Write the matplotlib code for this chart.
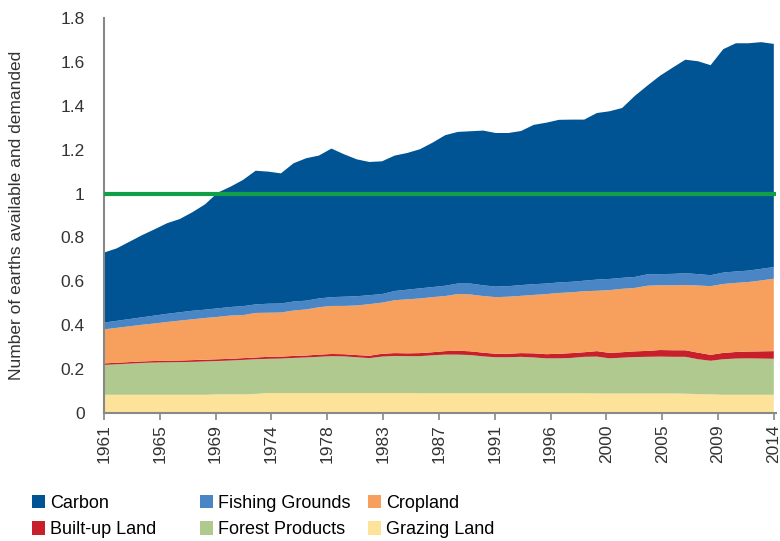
import numpy as np
import matplotlib
matplotlib.use("Agg")
import matplotlib.pyplot as plt
from matplotlib.patches import Patch

# Datos (número de planetas Tierra por componente)
years = list(range(1961, 2015))

grazing = [0.083] * 9 + [0.085] * 3 + [0.087] + [0.091] * 12 + [0.090] * 14 + \
          [0.089] * 7 + [0.088, 0.086, 0.085] + [0.083] * 5

forest = [0.136, 0.139, 0.142, 0.145, 0.147, 0.148, 0.149, 0.150, 0.152, 0.152,
          0.154, 0.157, 0.158, 0.156, 0.157, 0.160, 0.162, 0.165, 0.168, 0.167,
          0.163, 0.159, 0.166, 0.169, 0.168, 0.169, 0.173, 0.176, 0.176, 0.174,
          0.168, 0.164, 0.164, 0.166, 0.163, 0.159, 0.159, 0.161, 0.166, 0.168,
          0.160, 0.163, 0.166, 0.167, 0.168, 0.167, 0.168, 0.159, 0.153, 0.162,
          0.165, 0.166, 0.165, 0.164]

built_up = [0.007, 0.007, 0.007, 0.007, 0.007, 0.007, 0.007, 0.008, 0.008, 0.008,
            0.008, 0.008, 0.008, 0.009, 0.009, 0.009, 0.009, 0.010, 0.010, 0.010,
            0.010, 0.011, 0.013, 0.013, 0.013, 0.014, 0.014, 0.016, 0.018, 0.017,
            0.017, 0.016, 0.016, 0.017, 0.019, 0.019, 0.021, 0.022, 0.021, 0.025,
            0.025, 0.025, 0.026, 0.027, 0.030, 0.030, 0.030, 0.030, 0.027, 0.029,
            0.030, 0.031, 0.033, 0.035]

cropland = [0.155, 0.159, 0.163, 0.167, 0.171, 0.177, 0.182, 0.186, 0.190, 0.193,
            0.197, 0.196, 0.203, 0.201, 0.201, 0.207, 0.210, 0.216, 0.219, 0.220,
            0.226, 0.235, 0.233, 0.241, 0.246, 0.249, 0.251, 0.251, 0.258, 0.259,
            0.258, 0.258, 0.260, 0.261, 0.266, 0.274, 0.277, 0.277, 0.278, 0.275,
            0.286, 0.289, 0.289, 0.297, 0.295, 0.296, 0.297, 0.306, 0.313, 0.314,
            0.315, 0.317, 0.323, 0.330]

fishing = [0.031, 0.032, 0.033, 0.034, 0.036, 0.037, 0.038, 0.039, 0.038, 0.039,
           0.039, 0.041, 0.039, 0.041, 0.041, 0.041, 0.040, 0.040, 0.040, 0.042,
           0.042, 0.041, 0.039, 0.042, 0.044, 0.046, 0.046, 0.047, 0.048, 0.050,
           0.049, 0.048, 0.048, 0.049, 0.049, 0.048, 0.048, 0.048, 0.048, 0.051,
           0.051, 0.050, 0.050, 0.052, 0.051, 0.052, 0.054, 0.052, 0.050, 0.052,
           0.052, 0.052, 0.053, 0.053]

carbon = [0.319, 0.330, 0.352, 0.374, 0.393, 0.413, 0.425, 0.449, 0.480, 0.527,
          0.548, 0.575, 0.609, 0.602, 0.593, 0.630, 0.649, 0.651, 0.677, 0.649,
          0.624, 0.607, 0.605, 0.617, 0.623, 0.634, 0.658, 0.686, 0.691, 0.694,
          0.705, 0.700, 0.698, 0.702, 0.726, 0.733, 0.741, 0.739, 0.734, 0.759,
          0.764, 0.774, 0.825, 0.860, 0.904, 0.940, 0.973, 0.970, 0.957, 1.018,
          1.040, 1.036, 1.033, 1.017]

tick_labels = ['1961', '1965', '1969', '1974', '1978', '1983', '1987',
               '1991', '1996', '2000', '2005', '2009', '2014']

names = ['Grazing Land', 'Forest Products', 'Built-up Land', 'Cropland',
         'Fishing Grounds', 'Carbon']
colors = ['#fde29a', '#afc98f', '#c8202b', '#f7a05e', '#4a86c5', '#005494']

plt.rcParams['font.family'] = ['Liberation Sans', 'DejaVu Sans']
text_color = '#333333'

fig = plt.figure(figsize=(7.8, 5.41), dpi=100)
ax = fig.add_axes([0.1333, 0.2366, 0.862, 0.7301])

ax.stackplot(years, grazing, forest, built_up, cropland, fishing, carbon,
             colors=colors, linewidth=0)
ax.axhline(1, color='#119f48', linewidth=3, zorder=5)

ax.set_xlim(1961, 2014.2)
ax.set_ylim(0, 1.8)
ax.set_yticks(np.arange(0, 1.81, 0.2))
ax.set_yticklabels(['0', '0.2', '0.4', '0.6', '0.8', '1', '1.2', '1.4', '1.6', '1.8'])
ax.set_xticks(np.linspace(1961, 2014, 13))
ax.set_xticklabels(tick_labels, rotation=90)

for s in ['top', 'right']:
    ax.spines[s].set_visible(False)
ax.spines['left'].set_color('#888888')
ax.spines['bottom'].set_color('#888888')
ax.spines['left'].set_linewidth(1.5)
ax.spines['bottom'].set_linewidth(1.5)
ax.tick_params(axis='y', length=0, pad=14, labelsize=12.5, labelcolor=text_color)
ax.tick_params(axis='x', length=5, width=1.2, color='#888888', pad=3,
               labelsize=12.5, labelcolor=text_color)
ax.set_ylabel('Number of earths available and demanded', fontsize=12.5,
              color=text_color, labelpad=26)

# Leyenda: tres columnas de ancho fijo
columns = [[5, 2], [4, 1], [3, 0]]
col_x = [0.032, 0.247, 0.463]
for idx, x0 in zip(columns, col_x):
    handles = [Patch(facecolor=colors[i], edgecolor='none') for i in idx]
    labels = [names[i] for i in idx]
    fig.legend(handles, labels, loc='upper left',
               bbox_to_anchor=(x0, 0.099), frameon=False,
               handlelength=0.7, handleheight=0.8, handletextpad=0.3,
               labelspacing=0.5, borderaxespad=0,
               prop={'family': ['Liberation Sans Narrow', 'Liberation Sans'], 'size': 13})

fig.savefig('out.png', dpi=100)
